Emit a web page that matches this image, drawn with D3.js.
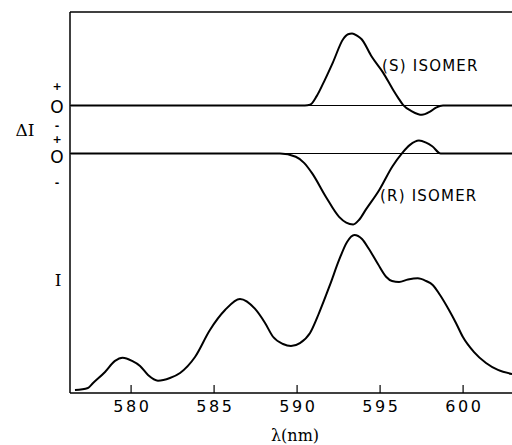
<!DOCTYPE html>
<html><head><meta charset="utf-8">
<script src="https://cdn.jsdelivr.net/npm/d3@7"></script>
<style>
html,body{margin:0;padding:0;background:#fff;}
svg{display:block;}
text{fill:#000;}
</style></head>
<body>
<svg id="c" width="512" height="445"></svg>
<script>
// ---- data ----
const xTicks = [580, 585, 590, 595, 600];
const xLabel = "λ(nm)";
const deltaLabel = "ΔI";
const intensityLabel = "I";
const signTicks = ["+", "O", "-"];
const sLabel = "(S) ISOMER";
const rLabel = "(R) ISOMER";

// emission intensity I (arbitrary units, main peak = 100)
const iWave = [576.65,577.43,577.74,578.46,579.06,579.52,580.09,580.57,581.05,581.65,582.37,582.98,583.88,584.78,585.69,586.59,587.5,588.1,588.58,589.18,589.66,590.2,590.81,591.35,592.01,592.56,593.04,593.48,593.94,594.36,594.9,595.39,595.75,596.17,596.71,597.3,597.8,598.2,598.64,599.18,599.6,600.01,600.69,601.41,602.13,602.98];
const iVal  = [1.9,3.2,6.3,13.3,20.3,22.3,20.3,17.1,11.4,7.8,9.5,12.7,22.8,39.9,52.5,59.5,53.2,44.3,35.6,31.0,29.7,31.6,38.0,50.6,68.4,84.2,95.6,100,97.5,91.1,81.6,73.6,70.9,70.3,71.8,72.6,70.9,68.4,62.0,52.5,44.3,35.6,25.9,19.0,14.6,12.0];

// circular polarisation difference, (S) isomer (peak = 1)
const sWave = [576.4,590.5,590.81,591.21,591.71,592.19,592.8,593.1,593.34,593.64,593.92,594.52,595.2,595.81,596.11,596.41,596.95,597.55,598.04,598.4,598.82,603];
const sVal  = [0,0,0.01,0.13,0.36,0.60,0.92,0.99,1.0,0.97,0.92,0.68,0.46,0.22,0.11,0.01,-0.08,-0.13,-0.085,-0.03,0,0];

// circular polarisation difference, (R) isomer
const rWave = [576.4,589.0,589.95,590.45,590.95,591.76,592.56,592.99,593.41,593.77,594.17,594.97,595.77,596.37,596.83,597.37,597.8,598.17,598.68,603];
const rVal  = [0,0,-0.045,-0.13,-0.28,-0.6,-0.88,-0.96,-0.985,-0.92,-0.78,-0.51,-0.18,0.01,0.12,0.18,0.15,0.1,0,0];

// ---- layout ----
const svg = d3.select("#c");
const mLeft = 70, mRight = 512.4, mTop = 12, mBottom = 393;
const x = d3.scaleLinear().domain([576.35, 603]).range([mLeft, mRight]);
const yI = d3.scaleLinear().domain([0, 100]).range([mBottom, 235]);
const sBase = 105.5, rBase = 153.5, amp = 72;
const yS = d3.scaleLinear().domain([-1, 1]).range([sBase + amp, sBase - amp]);
const yR = d3.scaleLinear().domain([-1, 1]).range([rBase + amp, rBase - amp]);

// frame
svg.append("line").attr("x1", mLeft).attr("x2", 520).attr("y1", mTop).attr("y2", mTop)
  .attr("stroke", "#000").attr("stroke-width", 1.3);
svg.append("line").attr("x1", mLeft).attr("x2", mLeft).attr("y1", mTop).attr("y2", mBottom)
  .attr("stroke", "#000").attr("stroke-width", 1.5);

// bottom axis
const ax = d3.axisBottom(x).tickValues(xTicks).tickSize(-8).tickPadding(17).tickFormat(d3.format("d"));
const gx = svg.append("g").attr("transform", `translate(0,${mBottom})`).call(ax);
gx.select(".domain").attr("stroke-width", 1.6).attr("d", `M${mLeft},0H520`);
gx.selectAll(".tick line").attr("stroke-width", 1.2);
gx.selectAll(".tick text").attr("font-family", "DejaVu Sans").attr("font-size", 16)
  .attr("letter-spacing", 2.5).attr("dx", 1.2).attr("dy", "0.1em");

svg.append("text").attr("x", 295).attr("y", 441).attr("text-anchor", "middle")
  .attr("font-family", "DejaVu Serif").attr("font-size", 16).text(xLabel);

// zero lines for ΔI traces
[yS, yR].forEach(ys => {
  svg.append("line").attr("x1", mLeft).attr("x2", 520).attr("y1", ys(0)).attr("y2", ys(0))
    .attr("stroke", "#000").attr("stroke-width", 1);
});

// sign labels
const signY = [[86, 107, 125], [139, 157, 182]];
signY.forEach(row => {
  row.forEach((yy, i) => {
    svg.append("text").attr("x", 57).attr("y", yy).attr("text-anchor", "middle")
      .attr("dominant-baseline", "central")
      .attr("font-family", "DejaVu Sans").attr("font-weight", i === 1 ? "normal" : "bold")
      .attr("font-size", i === 1 ? 17 : 11).text(signTicks[i]);
  });
});

svg.append("text").attr("x", 25).attr("y", 130).attr("text-anchor", "middle")
  .attr("dominant-baseline", "central").attr("font-family", "DejaVu Serif")
  .attr("font-size", 17).text(deltaLabel);
svg.append("text").attr("x", 58).attr("y", 280).attr("text-anchor", "middle")
  .attr("dominant-baseline", "central").attr("font-family", "DejaVu Serif")
  .attr("font-size", 17).text(intensityLabel);

// curves
function drawCurve(xs, vs, ys) {
  const pts = xs.map((w, i) => [w, vs[i]]);
  const line = d3.line().x(d => x(d[0])).y(d => ys(d[1])).curve(d3.curveMonotoneX);
  svg.append("path").datum(pts).attr("d", line).attr("fill", "none")
    .attr("stroke", "#000").attr("stroke-width", 2).attr("stroke-linejoin", "round");
}
drawCurve(iWave, iVal, yI);
drawCurve(sWave, sVal, yS);
drawCurve(rWave, rVal, yR);

// curve labels
svg.append("text").attr("x", 382).attr("y", 65.5).attr("dominant-baseline", "central")
  .attr("font-family", "DejaVu Sans").attr("font-size", 15).attr("letter-spacing", 1.2).text(sLabel);
svg.append("text").attr("x", 380).attr("y", 195.5).attr("dominant-baseline", "central")
  .attr("font-family", "DejaVu Sans").attr("font-size", 15).attr("letter-spacing", 1.2).text(rLabel);
</script>
</body></html>
